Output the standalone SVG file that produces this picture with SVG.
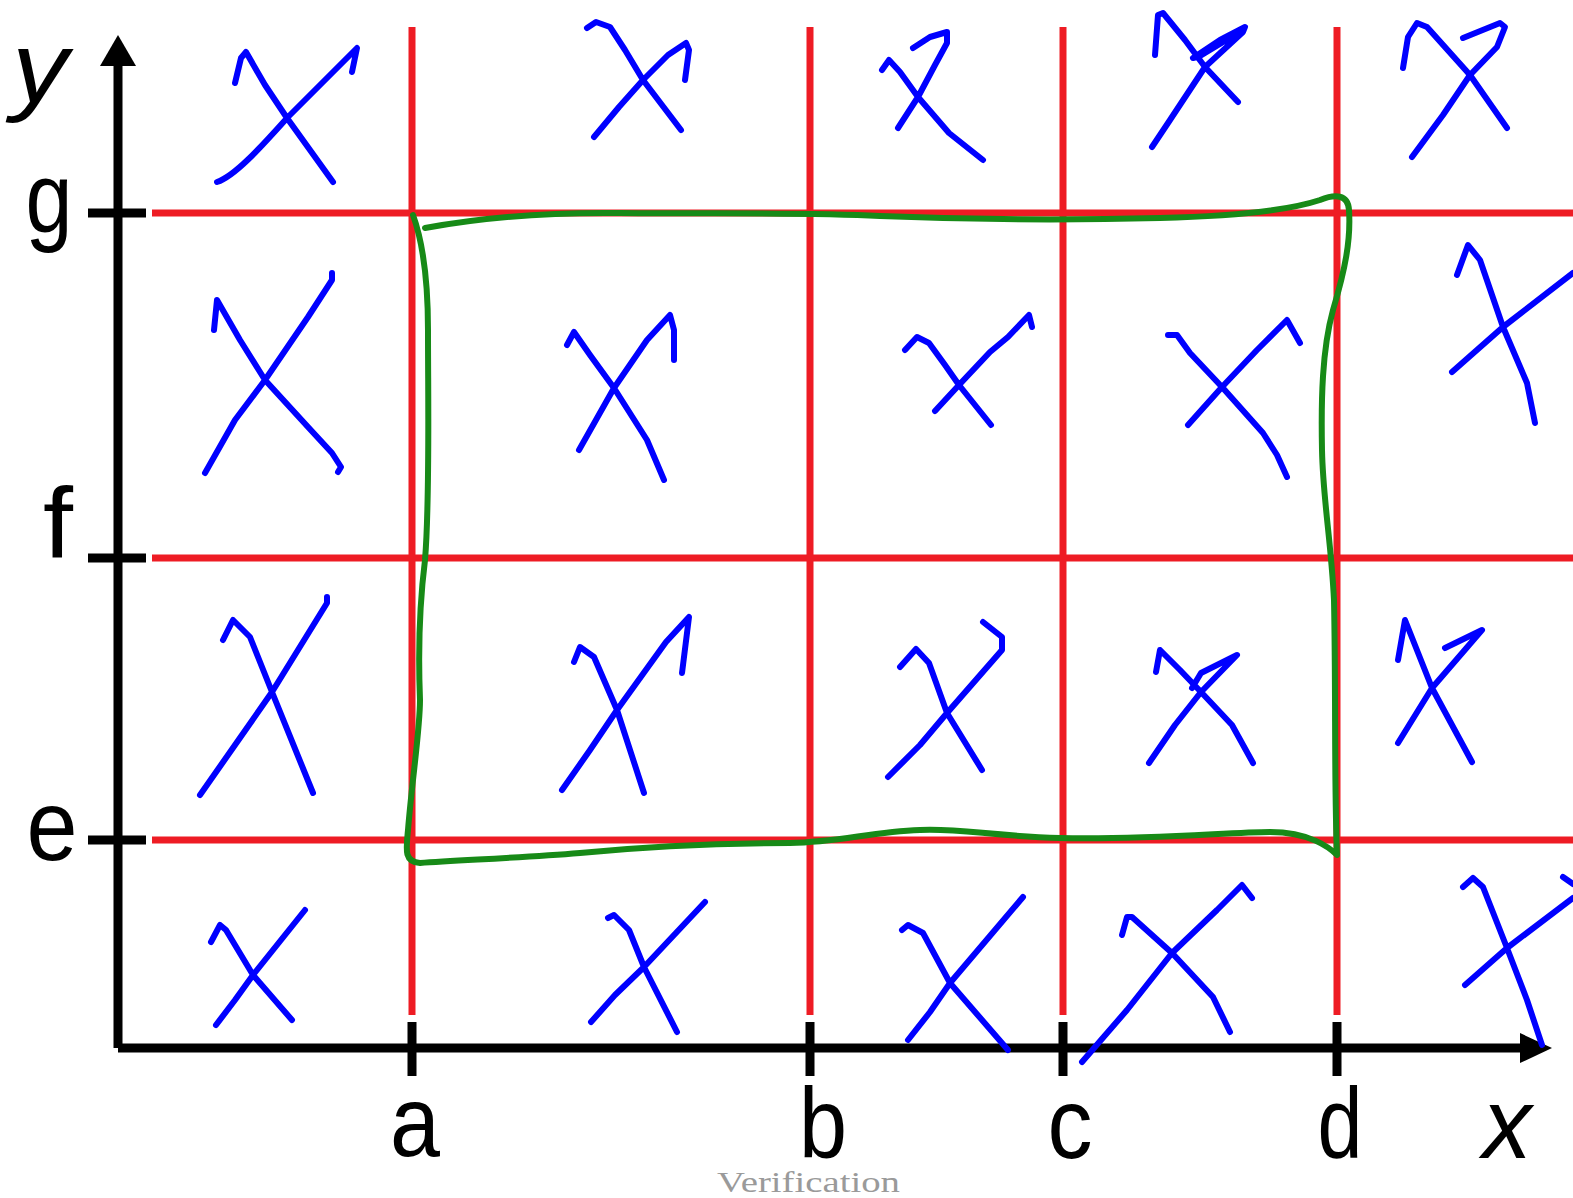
<svg xmlns="http://www.w3.org/2000/svg" width="1573" height="1198" viewBox="0 0 1573 1198">
<style>
.ax{stroke:#000;stroke-width:9;fill:none}
.grid{stroke:#ee1c24;stroke-width:7;fill:none}
.mk{stroke:#0000ff;stroke-width:6;fill:none;stroke-linecap:round;stroke-linejoin:round}
.sel{stroke:#178a17;stroke-width:6;fill:none;stroke-linecap:round;stroke-linejoin:round}
.lbl{font-family:"Liberation Sans",Arial,sans-serif;font-size:100px;fill:#000;text-anchor:middle}
.it{font-style:italic}
.wm{font-family:"Liberation Serif","Times New Roman",serif;font-size:30px;fill:#9a9a9a}
</style>
<rect width="1573" height="1198" fill="#fff"/>
<g id="grid">
<path class="grid" d="M412,27V1015M810,27V1015M1063,27V1015M1337,27V1015"/>
<path class="grid" d="M152,213H1573M152,558H1573M152,840H1573"/>
</g>
<g id="axes">
<path class="ax" d="M118,1048V60M118,1048H1525"/>
<polygon points="118,35 100,66 136,66" fill="#000"/>
<polygon points="1552,1048 1520,1033 1520,1063" fill="#000"/>
<path class="ax" d="M88,213H146M88,558H146M88,840H146M412,1022V1076M810,1022V1076M1063,1022V1076M1337,1022V1076"/>
</g>
<g id="labels">
<text class="lbl it" x="40" y="102" textLength="56" lengthAdjust="spacingAndGlyphs">y</text>
<text class="lbl" x="49" y="232" textLength="47" lengthAdjust="spacingAndGlyphs">g</text>
<text class="lbl" x="58" y="558" textLength="30" lengthAdjust="spacingAndGlyphs">f</text>
<text class="lbl" x="52" y="860" textLength="51" lengthAdjust="spacingAndGlyphs">e</text>
<text class="lbl" x="415" y="1156" textLength="50" lengthAdjust="spacingAndGlyphs">a</text>
<text class="lbl" x="823" y="1158" textLength="48" lengthAdjust="spacingAndGlyphs">b</text>
<text class="lbl" x="1070" y="1158" textLength="45" lengthAdjust="spacingAndGlyphs">c</text>
<text class="lbl" x="1340" y="1158" textLength="45" lengthAdjust="spacingAndGlyphs">d</text>
<text class="lbl it" x="1507" y="1158" textLength="49" lengthAdjust="spacingAndGlyphs">x</text>
<text class="wm" x="717" y="1192" textLength="183" lengthAdjust="spacingAndGlyphs">Verification</text>
</g>
<g id="marks">
<path class="mk" d="M235,83L241,58L246,52L265,85L287,118L333,182M217,182C235,176 260,148 287,118L357,48L352,72"/>
<path class="mk" d="M587,28L596,22L610,27L625,50L643,80L681,130M594,137L619,107L643,80L668,55L686,43L689,50L685,80"/>
<path class="mk" d="M882,70L889,60L900,72L918,97L949,133L983,160M898,128L918,97L935,65L947,43L947,32L930,37L913,48"/>
<path class="mk" d="M1155,55L1158,15L1163,13L1185,40L1205,67L1238,102M1152,147L1170,120L1205,67L1243,32L1245,27L1220,40L1193,58L1200,56L1243,30"/>
<path class="mk" d="M1403,68L1408,37L1417,23L1427,27L1470,75L1507,128M1412,157L1443,115L1470,75L1497,47L1505,27L1500,23L1463,38"/>
<path class="mk" d="M214,330L217,300L240,340L265,380L308,427L332,453L341,467L338,472M205,473L235,420L265,380L308,317L332,280L332,273"/>
<path class="mk" d="M567,345L574,332L590,355L614,388L647,440L664,480M579,450L614,388L647,340L670,315L674,330L674,360"/>
<path class="mk" d="M905,350L917,337L929,343L945,365L959,385L991,425M935,411L959,385L990,352L1008,337L1029,315L1032,327"/>
<path class="mk" d="M1168,335L1177,335L1190,353L1222,387L1263,433L1277,455L1287,477M1188,425L1222,387L1257,350L1287,320L1300,343"/>
<path class="mk" d="M1457,275L1468,245L1480,260L1503,327L1527,383L1535,423M1452,372L1503,327L1573,273"/>
<path class="mk" d="M223,640L233,620L250,637L272,692L313,793M200,795L235,745L272,692L327,603L327,597"/>
<path class="mk" d="M574,662L580,647L594,657L617,710L644,793M562,790L590,750L617,710L666,642L689,617L682,673"/>
<path class="mk" d="M900,667L916,649L929,663L947,713L982,770M888,777L920,745L947,713L1002,650L1002,637L983,622"/>
<path class="mk" d="M1156,672L1160,650L1180,670L1201,692L1232,725L1253,763M1149,763L1175,725L1201,692L1237,655L1201,673L1192,688"/>
<path class="mk" d="M1398,660L1405,620L1432,688L1472,762M1398,743L1432,688L1482,630L1445,648"/>
<path class="mk" d="M211,942L220,925L226,930L253,975L292,1020M216,1025L235,1000L253,975L305,910"/>
<path class="mk" d="M608,918L614,915L629,930L644,967L677,1032M591,1022L615,995L644,967L705,902"/>
<path class="mk" d="M902,930L908,925L923,933L950,983L1008,1050M908,1040L930,1012L950,983L1023,897"/>
<path class="mk" d="M1122,935L1127,917L1132,917L1172,953L1213,997L1230,1032M1082,1062L1127,1010L1172,953L1217,910L1242,885L1252,898"/>
<path class="mk" d="M1463,887L1473,878L1483,887L1507,948L1527,1000L1542,1045M1465,985L1507,948L1573,898M1563,877L1573,884"/>
</g>
<g id="selection">
<path class="sel" d="M425,228C480,218 540,212 620,213C720,214 800,212 880,216C980,220 1080,220 1160,218C1240,216 1290,210 1320,200C1335,194 1348,194 1349,210C1351,240 1345,270 1333,310C1322,350 1321,400 1322,450C1323,500 1331,540 1334,600C1336,700 1334,780 1337,855C1330,848 1310,832 1270,832C1230,832 1150,840 1060,838C990,836 960,828 920,830C870,832 840,842 790,843C720,843 650,846 580,853C520,858 460,860 420,863C404,862 406,850 408,830C412,780 420,730 420,700C418,650 420,600 425,560C430,500 428,400 428,330C428,280 422,240 413,215"/>
</g>
</svg>
